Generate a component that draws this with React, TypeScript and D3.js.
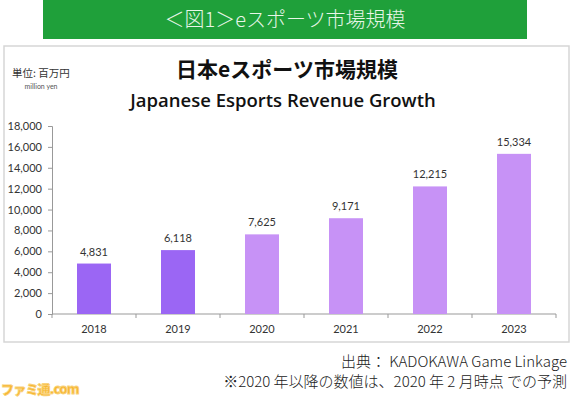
import * as d3 from "d3";
import { useEffect, useRef } from "react";

const years = ["2018", "2019", "2020", "2021", "2022", "2023"];
const revenue = [4831, 6118, 7625, 9171, 12215, 15334];
const forecast = [false, false, true, true, true, true];
const yTicks = [0, 2000, 4000, 6000, 8000, 10000, 12000, 14000, 16000, 18000];

const W = 583;
const H = 399;
const jp = "'Noto Sans CJK JP', 'Noto Sans', sans-serif";
const latin = "Lato, 'Open Sans', sans-serif";

export default function App() {
  const ref = useRef<SVGSVGElement>(null);

  useEffect(() => {
    if (!ref.current) return;
    const svg = d3.select(ref.current);
    svg.selectAll("*").remove();

    svg.append("rect").attr("width", W).attr("height", H).attr("fill", "#fff");

    // green banner
    svg.append("rect").attr("x", 43).attr("y", 0).attr("width", 484).attr("height", 39).attr("fill", "#1fa03a");
    svg.append("text")
      .attr("x", 285).attr("y", 27)
      .attr("text-anchor", "middle")
      .attr("fill", "#e8f6e8")
      .attr("font-family", jp)
      .attr("font-weight", 300)
      .attr("font-size", 20)
      .text("＜図1＞eスポーツ市場規模");

    // chart frame
    svg.append("rect")
      .attr("x", 4).attr("y", 46).attr("width", 565).attr("height", 296)
      .attr("fill", "#fff").attr("stroke", "#d6d6d6").attr("stroke-width", 1.5);

    svg.append("text")
      .attr("x", 12).attr("y", 77)
      .attr("fill", "#333").attr("font-family", jp).attr("font-size", 10.5)
      .text("単位: 百万円");
    svg.append("text")
      .attr("x", 41).attr("y", 89)
      .attr("text-anchor", "middle")
      .attr("fill", "#555").attr("font-family", latin).attr("font-size", 7)
      .text("million yen");

    svg.append("text")
      .attr("x", 287).attr("y", 77)
      .attr("text-anchor", "middle")
      .attr("fill", "#111").attr("font-family", jp).attr("font-weight", 700).attr("font-size", 21)
      .text("日本eスポーツ市場規模");
    svg.append("text")
      .attr("x", 283).attr("y", 107)
      .attr("text-anchor", "middle")
      .attr("fill", "#111").attr("font-family", "'Open Sans', sans-serif").attr("font-weight", 600).attr("font-size", 18.5)
      .text("Japanese Esports Revenue Growth");

    const y = d3.scaleLinear().domain([0, 18000]).range([314, 126]);
    const fmt = d3.format(",");

    const yAxis = svg.append("g")
      .attr("transform", "translate(52,0)")
      .call(d3.axisLeft(y).tickValues(yTicks).tickFormat(d => fmt(d as number)).tickSize(4).tickPadding(6));
    yAxis.select(".domain").attr("stroke", "#999");
    yAxis.selectAll(".tick line").attr("stroke", "#999");
    yAxis.selectAll("text").attr("fill", "#333").attr("font-family", latin).attr("font-size", 11);

    // category axis with boundary ticks
    const band = (556 - 52) / years.length;
    const cx = (yr: string) => 52 + (years.indexOf(yr) + 0.5) * band;
    svg.append("line").attr("x1", 52).attr("x2", 556).attr("y1", 314).attr("y2", 314).attr("stroke", "#999");
    svg.selectAll(".cat-tick")
      .data(d3.range(years.length + 1))
      .join("line")
      .attr("x1", i => 52 + i * band).attr("x2", i => 52 + i * band)
      .attr("y1", 314).attr("y2", 318)
      .attr("stroke", "#999");

    svg.selectAll(".year")
      .data(years)
      .join("text")
      .attr("x", d => cx(d))
      .attr("y", 333)
      .attr("text-anchor", "middle")
      .attr("fill", "#333").attr("font-family", latin).attr("font-size", 11)
      .text(d => d);

    const rows = years.map((yr, i) => ({ yr, v: revenue[i], f: forecast[i] }));

    svg.selectAll(".bar")
      .data(rows)
      .join("rect")
      .attr("x", d => cx(d.yr) - 17)
      .attr("width", 34)
      .attr("y", d => y(d.v))
      .attr("height", d => y(0) - y(d.v))
      .attr("fill", d => (d.f ? "#c792f6" : "#9b66f4"));

    svg.selectAll(".val")
      .data(rows)
      .join("text")
      .attr("x", d => cx(d.yr))
      .attr("y", d => y(d.v) - 8)
      .attr("text-anchor", "middle")
      .attr("fill", "#333").attr("font-family", latin).attr("font-size", 11)
      .text(d => fmt(d.v));

    // footer
    svg.append("text")
      .attr("x", 567).attr("y", 367)
      .attr("text-anchor", "end")
      .attr("fill", "#222").attr("font-family", jp).attr("font-size", 15).attr("font-weight", 300)
      .text("出典： KADOKAWA Game Linkage");
    svg.append("text")
      .attr("x", 567).attr("y", 387)
      .attr("text-anchor", "end")
      .attr("fill", "#222").attr("font-family", jp).attr("font-size", 15).attr("font-weight", 300)
      .text("※2020 年以降の数値は、2020 年 2 月時点 での予測");

    svg.append("text")
      .attr("x", 1).attr("y", 394)
      .attr("fill", "#f7b531").attr("stroke", "#f9d27a").attr("stroke-width", 0.8)
      .attr("font-family", jp).attr("font-weight", 900).attr("font-size", 13)
      .attr("letter-spacing", -0.8)
      .text("ファミ通.com");
  }, []);

  return (
    <svg
      ref={ref}
      width={W}
      height={H}
      style={{ display: "block", position: "absolute", left: 0, top: 0 }}
    />
  );
}
